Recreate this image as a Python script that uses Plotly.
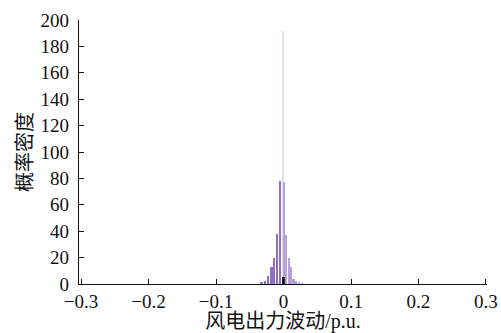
import plotly.graph_objects as go

# Histogram bin centres (p.u.) and densities
left_x = [-0.0325, -0.0274, -0.0225, -0.0177, -0.014, -0.0092, -0.0047]
left_y = [0.8, 2.5, 6, 13, 20, 38, 78]
right_x = [0.0007, 0.0044, 0.0081, 0.0111, 0.0152, 0.0192, 0.0236, 0.0281]
right_y = [77, 37, 20, 13, 4, 2, 1, 0.5]
spike_x = [-0.0005]
spike_y = [192]
core_x = [0.0003]
core_y = [5]

x_ticks = [-0.3, -0.2, -0.1, 0, 0.1, 0.2, 0.3]
x_ticklabels = ["\u22120.3", "\u22120.2", "\u22120.1", "0", "0.1", "0.2", "0.3"]
y_ticks = [0, 20, 40, 60, 80, 100, 120, 140, 160, 180, 200]

SERIF = "'Liberation Serif', 'Times New Roman', 'Noto Sans CJK SC', serif"

fig = go.Figure()
fig.add_trace(go.Bar(x=spike_x, y=spike_y, width=0.0016,
                     marker=dict(color="#e4dcef", line_width=0)))
fig.add_trace(go.Bar(x=left_x, y=left_y, width=0.0028,
                     marker=dict(color="#8f6fc4", line_width=0)))
fig.add_trace(go.Bar(x=right_x, y=right_y, width=0.0028,
                     marker=dict(color="#b7a2db", line_width=0)))
fig.add_trace(go.Bar(x=core_x, y=core_y, width=0.0024,
                     marker=dict(color="#222222", line_width=0)))

fig.update_layout(
    width=501, height=333,
    margin=dict(l=79, r=14, t=20, b=49),
    plot_bgcolor="white", paper_bgcolor="white",
    barmode="overlay", bargap=0, showlegend=False,
    font=dict(family=SERIF, size=19, color="#111"),
)
fig.update_xaxes(
    range=[-0.303, 0.3015], tickvals=x_ticks, ticktext=x_ticklabels,
    ticks="inside", ticklen=5, tickcolor="#111", showline=True, linecolor="#111",
    linewidth=1.3, showgrid=False, zeroline=False, automargin=False,
    tickfont=dict(family=SERIF, size=19),
    title=dict(text="风电出力波动/p.u.", font=dict(size=20, family=SERIF), standoff=3),
)
fig.update_yaxes(
    range=[0, 200], tickvals=y_ticks,
    ticks="inside", ticklen=5, tickcolor="#111", showline=True, linecolor="#111",
    linewidth=1.3, showgrid=False, zeroline=False, ticklabelstandoff=5, automargin=False,
    tickfont=dict(family=SERIF, size=19),
    title=dict(text="概率密度", font=dict(size=20, family=SERIF), standoff=2),
)

fig.write_html("out.html")
